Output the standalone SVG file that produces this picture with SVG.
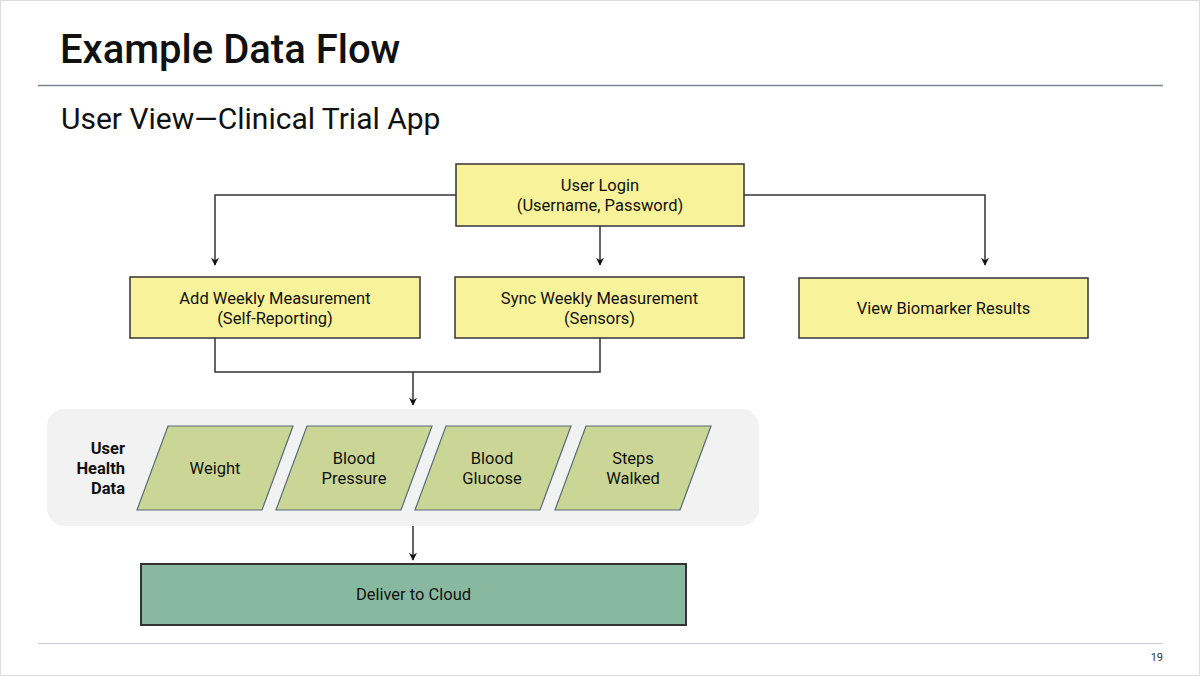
<svg xmlns="http://www.w3.org/2000/svg" width="1200" height="676" viewBox="0 0 1200 676">
<style>
  text { font-family: Roboto, "Liberation Sans", sans-serif; fill: #111; }
  .box { fill: #f8f29b; stroke: #333; stroke-width: 1.5; }
  .data { fill: #cbd696; stroke: #5d6878; stroke-width: 1.2; }
  .lbl { font-size: 16.5px; text-anchor: middle; }
  .con { fill: none; stroke: #333; stroke-width: 1.5; }
</style>
<defs>
  <marker id="arr" viewBox="0 0 10 10" refX="9" refY="5" markerWidth="8" markerHeight="8" markerUnits="userSpaceOnUse" orient="auto">
    <path d="M0,0 L10,5 L0,10 L3,5 Z" fill="#111"/>
  </marker>
</defs>
<rect x="0.5" y="0.5" width="1199" height="675" fill="#fff" stroke="#dcdcdc"/>
<text x="60" y="63" font-size="40" font-weight="500">Example Data Flow</text>
<line x1="38" y1="85.5" x2="1163" y2="85.5" stroke="#7a8496" stroke-width="1.5"/>
<text x="61" y="129" font-size="30">User View—Clinical Trial App</text>
<line x1="38" y1="643.5" x2="1163" y2="643.5" stroke="#c9cdd3" stroke-width="1.2"/>
<text x="1163" y="661" font-size="11" text-anchor="end" style="fill:#333">19</text>

<g id="container">
  <rect x="47" y="409" width="712" height="117" rx="18" fill="#f2f2f2"/>
  <text x="125" y="454" font-size="16.5" font-weight="bold" text-anchor="end">User</text>
  <text x="125" y="474" font-size="16.5" font-weight="bold" text-anchor="end">Health</text>
  <text x="125" y="494" font-size="16.5" font-weight="bold" text-anchor="end">Data</text>
</g>

<g id="connectors">
  <path class="con" d="M456,195 H215 V265" marker-end="url(#arr)"/>
  <path class="con" d="M600,226 V265" marker-end="url(#arr)"/>
  <path class="con" d="M744,195 H985 V265" marker-end="url(#arr)"/>
  <path class="con" d="M215,338 V372 H600 V338" stroke="#4a5260"/>
  <path class="con" d="M413,372 V405" marker-end="url(#arr)"/>
  <path class="con" d="M413,526 V560" marker-end="url(#arr)"/>
</g>

<g id="login">
  <rect class="box" x="456" y="164" width="288" height="62"/>
  <text class="lbl" x="600" y="191">User Login</text>
  <text class="lbl" x="600" y="211">(Username, Password)</text>
</g>
<g id="add">
  <rect class="box" x="130" y="277" width="290" height="61"/>
  <text class="lbl" x="275" y="304">Add Weekly Measurement</text>
  <text class="lbl" x="275" y="324">(Self-Reporting)</text>
</g>
<g id="sync">
  <rect class="box" x="455" y="277" width="289" height="61"/>
  <text class="lbl" x="599.5" y="304">Sync Weekly Measurement</text>
  <text class="lbl" x="599.5" y="324">(Sensors)</text>
</g>
<g id="view">
  <rect class="box" x="799" y="278" width="289" height="60"/>
  <text class="lbl" x="943.5" y="314">View Biomarker Results</text>
</g>

<g id="weight">
  <polygon class="data" points="168,426 293,426 262,510 137,510"/>
  <text class="lbl" x="215" y="474">Weight</text>
</g>
<g id="bp">
  <polygon class="data" points="307,426 432,426 401,510 276,510"/>
  <text class="lbl" x="354" y="464">Blood</text>
  <text class="lbl" x="354" y="484">Pressure</text>
</g>
<g id="bg">
  <polygon class="data" points="446,426 571,426 540,510 415,510"/>
  <text class="lbl" x="492" y="464">Blood</text>
  <text class="lbl" x="492" y="484">Glucose</text>
</g>
<g id="steps">
  <polygon class="data" points="586,426 711,426 680,510 555,510"/>
  <text class="lbl" x="633" y="464">Steps</text>
  <text class="lbl" x="633" y="484">Walked</text>
</g>

<g id="cloud">
  <rect x="141" y="564" width="545" height="61" fill="#88b9a0" stroke="#333" stroke-width="2"/>
  <text class="lbl" x="413.5" y="600">Deliver to Cloud</text>
</g>
</svg>
